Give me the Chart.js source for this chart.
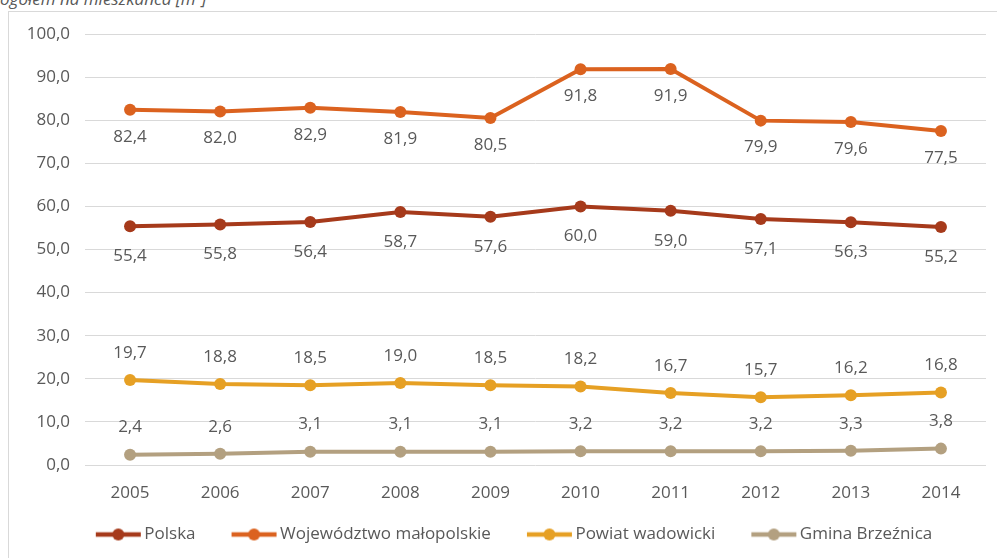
<!DOCTYPE html>
<html>
<head>
<meta charset="utf-8">
<script src="https://cdn.jsdelivr.net/npm/chart.js@4"></script>
<style>
  body { margin: 0; background: #fff; overflow: hidden; }
  #wrap { position: relative; width: 997px; height: 558px; }
  #frame { position: absolute; left: 8px; top: 11px; width: 1000px; height: 560px; border: 1px solid #d9d9d9; box-sizing: border-box; }
  #caption { position: absolute; left: 0; top: -13px; font: italic 17px "Open Sans", sans-serif; color: #595959; white-space: nowrap; }
  canvas { position: absolute; left: 0; top: 0; }
</style>
</head>
<body>
<div id="wrap">
  <div id="frame"></div>
  <div id="caption">ogółem na mieszkańca [m³]</div>
  <canvas id="waterChart" width="997" height="558"></canvas>
</div>
<script>
// data
const years = ['2005', '2006', '2007', '2008', '2009', '2010', '2011', '2012', '2013', '2014'];
const polska = [55.4, 55.8, 56.4, 58.7, 57.6, 60.0, 59.0, 57.1, 56.3, 55.2];
const malopolskie = [82.4, 82.0, 82.9, 81.9, 80.5, 91.8, 91.9, 79.9, 79.6, 77.5];
const wadowicki = [19.7, 18.8, 18.5, 19.0, 18.5, 18.2, 16.7, 15.7, 16.2, 16.8];
const brzeznica = [2.4, 2.6, 3.1, 3.1, 3.1, 3.2, 3.2, 3.2, 3.3, 3.8];

const fmt = v => v.toFixed(1).replace('.', ',');
const textColor = '#595959';
const font = '"Open Sans", sans-serif';

// legend marker: short line with a dot, drawn on the right part of the image
function legendMarker(color) {
    const c = document.createElement('canvas');
    c.width = 76; c.height = 14;
    const g = c.getContext('2d');
    g.strokeStyle = color;
    g.lineWidth = 4.5;
    g.beginPath();
    g.moveTo(29, 7);
    g.lineTo(74, 7);
    g.stroke();
    g.fillStyle = color;
    g.beginPath();
    g.arc(51.5, 7, 6, 0, Math.PI * 2);
    g.fill();
    return c;
}

function series(label, data, color, labelOffset) {
    return {
        label: label,
        data: data,
        borderColor: color,
        backgroundColor: color,
        borderWidth: 4,
        pointRadius: 6,
        pointHoverRadius: 6,
        pointBorderWidth: 0,
        pointStyle: 'circle',
        tension: 0,
        labelOffset: labelOffset,
        legendImage: legendMarker(color)
    };
}

// value labels next to the points
const valueLabels = {
    id: 'valueLabels',
    afterDatasetsDraw(chart) {
        const ctx = chart.ctx;
        ctx.save();
        ctx.font = '17px ' + font;
        ctx.fillStyle = textColor;
        ctx.textAlign = 'center';
        ctx.textBaseline = 'middle';
        chart.data.datasets.forEach((ds, i) => {
            const meta = chart.getDatasetMeta(i);
            meta.data.forEach((pt, j) => {
                ctx.fillText(fmt(ds.data[j]), pt.x, pt.y + ds.labelOffset);
            });
        });
        ctx.restore();
    }
};

const ctx = document.getElementById('waterChart').getContext('2d');
new Chart(ctx, {
    type: 'line',
    data: {
        labels: years,
        datasets: [
            series('Polska', polska, '#A63A1B', 30),
            series('Województwo małopolskie', malopolskie, '#DB621F', 27),
            series('Powiat wadowicki', wadowicki, '#E6A024', -27),
            series('Gmina Brzeźnica', brzeznica, '#B3A080', -27)
        ]
    },
    options: {
        responsive: false,
        animation: false,
        layout: {
            padding: { left: 20, right: 11, top: 34, bottom: 5 }
        },
        plugins: {
            title: { display: false },
            tooltip: { enabled: false },
            legend: {
                position: 'bottom',
                labels: {
                    usePointStyle: true,
                    pointStyleWidth: 62,
                    padding: 14,
                    color: textColor,
                    font: { family: font, size: 17 },
                    generateLabels: function(chart) {
                        return chart.data.datasets.map((ds, i) => ({
                            text: ds.label,
                            pointStyle: ds.legendImage,
                            fillStyle: ds.borderColor,
                            strokeStyle: ds.borderColor,
                            lineWidth: 0,
                            fontColor: textColor,
                            hidden: false,
                            datasetIndex: i
                        }));
                    }
                }
            }
        },
        scales: {
            x: {
                offset: true,
                grid: { display: false },
                border: { display: false },
                ticks: {
                    color: textColor,
                    font: { family: font, size: 17 },
                    padding: 10,
                    maxRotation: 0
                },
                afterFit: function(scale) { scale.height = 47; }
            },
            y: {
                min: 0,
                max: 100,
                grid: { color: '#d9d9d9', lineWidth: 1, drawTicks: false },
                border: { display: false },
                ticks: {
                    stepSize: 10,
                    color: textColor,
                    font: { family: font, size: 17 },
                    padding: 15,
                    callback: function(value) {
                        return fmt(value);
                    }
                },
                afterFit: function(scale) { scale.width = 65; }
            }
        }
    },
    plugins: [valueLabels]
});
</script>
</body>
</html>
